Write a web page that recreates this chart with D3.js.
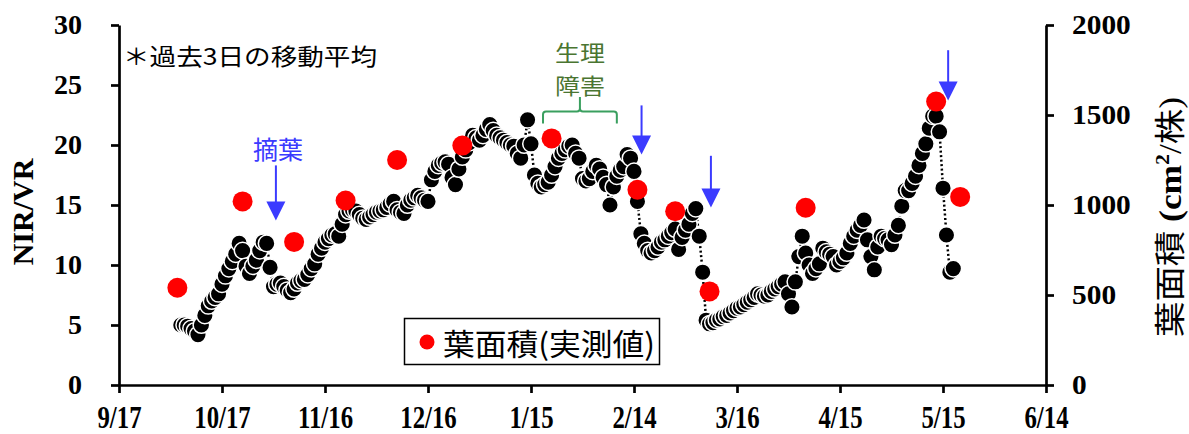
<!DOCTYPE html>
<html>
<head>
<meta charset="utf-8">
<script src="https://cdn.jsdelivr.net/npm/d3@7"></script>
<style>
  body { margin: 0; background: #fff; }
</style>
</head>
<body>
<div id="chart"></div>
<script>
// x axis: days counted from 9/17, one tick every 30 days
const tickDays = [0, 30, 60, 90, 120, 150, 180, 210, 240, 270];
const tickLabels = ["9/17", "10/17", "11/16", "12/16", "1/15", "2/14", "3/16", "4/15", "5/15", "6/14"];
const leftTicks = [0, 5, 10, 15, 20, 25, 30];
const rightTicks = [0, 500, 1000, 1500, 2000];

// NIR/VR, 3-day moving average, one value per day from day 18
const nirStartDay = 18;
const nirvr = [
  5.0, 5.0, 4.9, 4.7, 4.5, 4.2, 5.0, 5.8, 6.6, 7.0,
  7.3, 7.6, 8.4, 9.1, 9.7, 10.3, 10.9, 11.8, 11.2, 9.9,
  9.3, 9.9, 10.4, 11.2, 11.9, 11.8, 9.8, 8.2, 8.4, 8.5,
  8.2, 7.9, 7.7, 8.0, 8.5, 8.7, 8.8, 9.2, 9.7, 10.1,
  10.9, 11.4, 11.9, 12.2, 12.5, 12.6, 12.4, 13.4, 14.2, 14.5,
  14.6, 14.5, 14.2, 13.9, 13.8, 14.0, 14.2, 14.4, 14.5, 14.6,
  14.8, 15.1, 15.3, 14.6, 14.4, 14.3, 15.0, 15.4, 15.6, 15.8,
  15.6, 15.4, 15.3, 17.1, 17.8, 18.3, 18.5, 18.6, 18.4, 17.3,
  16.7, 18.0, 19.0, 19.6, 20.2, 20.8, 20.6, 20.4, 20.8, 21.3,
  21.7, 21.2, 20.8, 20.6, 20.4, 20.2, 20.0, 19.9, 19.3, 18.9,
  20.0, 22.1, 20.1, 17.5, 16.8, 16.5, 16.7, 16.9, 17.5, 18.2,
  18.9, 19.3, 19.6, 19.9, 20.0, 19.3, 18.9, 17.2, 17.0, 17.2,
  17.8, 18.3, 18.0, 17.3, 16.7, 15.0, 16.5, 17.4, 17.9, 18.2,
  19.2, 18.9, 17.8, 15.3, 12.6, 11.8, 11.2, 11.0, 11.2, 11.5,
  11.9, 12.1, 12.4, 12.7, 13.0, 11.3, 12.3, 12.9, 13.4, 14.3,
  14.7, 12.4, 9.4, 5.4, 5.1, 5.2, 5.4, 5.5, 5.7, 5.8,
  6.0, 6.2, 6.4, 6.5, 6.7, 6.9, 7.1, 7.3, 7.6, 7.5,
  7.4, 7.5, 7.8, 8.0, 8.2, 8.4, 8.6, 7.6, 6.5, 8.6,
  10.7, 12.4, 11.0, 10.0, 9.3, 9.7, 10.1, 11.4, 11.1, 10.9,
  10.7, 10.0, 10.3, 10.6, 11.0, 11.8, 12.4, 12.9, 13.3, 13.75,
  12.1, 10.7, 9.6, 11.5, 12.4, 12.2, 12.1, 11.7, 12.5, 13.3,
  14.9, 16.2, 16.2, 16.8, 17.4, 18.3, 19.3, 20.1, 21.4, 22.4,
  22.4, 21.1, 16.4, 12.5, 9.4, 9.7
];

// leaf area, measured (cm2 per plant)
const areaDays = [17, 36, 51, 66, 81, 100, 126, 151, 162, 172, 200, 238, 245];
const areaValues = [540, 1020, 795, 1025, 1250, 1330, 1370, 1085, 965, 520, 985, 1575, 1045];

// leaf removal arrows (day, NIR/VR at shaft top, NIR/VR at tip)
const arrowDays = [45.7, 152.2, 172.4, 241.5];
const arrowTop = [18.3, 23.3, 19.1, 27.9];
const arrowTip = [13.7, 19.2, 14.8, 23.7];

const width = 1189, height = 434;
const margin = { top: 25, right: 143, bottom: 49, left: 119 };

const svg = d3.select("#chart").append("svg")
  .attr("width", width)
  .attr("height", height);

const x = d3.scaleLinear().domain([0, 270]).range([margin.left, width - margin.right]);
const y = d3.scaleLinear().domain([0, 30]).range([height - margin.bottom, margin.top]);
const y2 = d3.scaleLinear().domain([0, 2000]).range([height - margin.bottom, margin.top]);

// squeeze / widen text to match the original's glyph widths
function stretch(sel, k) {
  sel.each(function () {
    const w = this.getComputedTextLength();
    d3.select(this).attr("textLength", w * k).attr("lengthAdjust", "spacingAndGlyphs");
  });
}
function fitWidth(sel, w) {
  sel.attr("textLength", w).attr("lengthAdjust", "spacingAndGlyphs");
}

function styleAxis(g, size) {
  g.select(".domain").attr("stroke", "#000").attr("stroke-width", 2.7);
  g.selectAll(".tick line").attr("stroke", "#000").attr("stroke-width", 2.7);
  g.selectAll(".tick text")
    .attr("fill", "#000")
    .style("font-family", "'Liberation Serif', 'Times New Roman', serif")
    .style("font-weight", "bold")
    .style("font-size", size + "px");
}

const xAxis = svg.append("g")
  .attr("transform", `translate(0,${y(0)})`)
  .call(d3.axisBottom(x).tickValues(tickDays).tickFormat((d, i) => tickLabels[i])
    .tickSize(8).tickSizeOuter(0).tickPadding(13))
  .call(styleAxis, 31);

const yAxis = svg.append("g")
  .attr("transform", `translate(${x(0)},0)`)
  .call(d3.axisLeft(y).tickValues(leftTicks).tickSize(8).tickSizeOuter(0).tickPadding(29))
  .call(styleAxis, 28);

const yAxis2 = svg.append("g")
  .attr("transform", `translate(${x(270)},0)`)
  .call(d3.axisRight(y2).tickValues(rightTicks).tickFormat(d3.format("d"))
    .tickSize(8).tickSizeOuter(0).tickPadding(18))
  .call(styleAxis, 28);

stretch(xAxis.selectAll(".tick text"), 0.8);
stretch(yAxis2.selectAll(".tick text"), 1.05);

// axis titles
svg.append("text")
  .attr("transform", `translate(33,${(y(0) + y(30)) / 2 + 7}) rotate(-90)`)
  .attr("text-anchor", "middle")
  .style("font-family", "'Liberation Serif', serif")
  .style("font-weight", "bold")
  .style("font-size", "30px")
  .text("NIR/VR");

const rTitle = svg.append("text")
  .attr("transform", `translate(1181,217) rotate(-90)`)
  .attr("text-anchor", "middle")
  .style("font-family", "'Liberation Serif', 'Noto Sans CJK JP', serif")
  .style("font-size", "31px");
rTitle.append("tspan").text("葉面積 ");
rTitle.append("tspan").style("font-weight", "bold").text("(cm");
rTitle.append("tspan").style("font-weight", "bold").style("font-size", "19px").attr("dy", -12).text("2");
rTitle.append("tspan").attr("dy", 12).text("/株)");
fitWidth(rTitle, 240);

// NIR/VR series
const nirData = nirvr.map((v, i) => ({ day: nirStartDay + i, v }));

svg.append("path")
  .datum(nirData)
  .attr("fill", "none")
  .attr("stroke", "#000")
  .attr("stroke-width", 2.5)
  .attr("stroke-dasharray", "2,2.5")
  .attr("d", d3.line().x(d => x(d.day)).y(d => y(d.v)));

svg.append("g").selectAll("circle")
  .data(nirData)
  .join("circle")
  .attr("cx", d => x(d.day))
  .attr("cy", d => y(d.v))
  .attr("r", 8.3)
  .attr("fill", "#000")
  .attr("stroke", "#fff")
  .attr("stroke-width", 1.5);

// measured leaf area
svg.append("g").selectAll("circle")
  .data(areaDays.map((d, i) => ({ day: d, v: areaValues[i] })))
  .join("circle")
  .attr("cx", d => x(d.day))
  .attr("cy", d => y2(d.v))
  .attr("r", 10)
  .attr("fill", "#ff0000");

// blue arrows
const blue = "#3b3bff";
arrowDays.forEach((d, i) => {
  const ax = x(d), top = y(arrowTop[i]), tip = y(arrowTip[i]);
  svg.append("line")
    .attr("x1", ax).attr("x2", ax)
    .attr("y1", top).attr("y2", tip - 15)
    .attr("stroke", blue).attr("stroke-width", 2);
  svg.append("path")
    .attr("d", `M${ax - 9.5},${tip - 19}L${ax + 9.5},${tip - 19}L${ax},${tip}Z`)
    .attr("fill", blue);
});

svg.append("text")
  .attr("x", x(45.7) + 2).attr("y", 159)
  .attr("text-anchor", "middle")
  .attr("fill", blue)
  .style("font-family", "'Noto Sans CJK JP', sans-serif")
  .style("font-size", "25px")
  .text("摘葉");

// physiological disorder bracket
const green = "#3a9f5f";
const bx0 = x(123.5), bx1 = x(145), bxm = (bx0 + bx1) / 2;
const by = y(22.8), byEnd = y(21.8), byStem = y(24.0);
svg.append("path")
  .attr("d", `M${bx0},${byEnd}V${by + 3}Q${bx0},${by} ${bx0 + 3},${by}H${bxm - 3}Q${bxm},${by} ${bxm},${by - 3}V${byStem}` +
    `M${bxm},${by - 3}Q${bxm},${by} ${bxm + 3},${by}H${bx1 - 3}Q${bx1},${by} ${bx1},${by + 3}V${byEnd}`)
  .attr("fill", "none")
  .attr("stroke", green)
  .attr("stroke-width", 2);

["生理", "障害"].forEach((t, i) => {
  svg.append("text")
    .attr("x", bxm).attr("y", 61 + i * 33)
    .attr("text-anchor", "middle")
    .attr("fill", "#4a7531")
    .style("font-family", "'Noto Sans CJK JP', sans-serif")
    .style("font-size", "22px")
    .attr("textLength", 50)
    .attr("lengthAdjust", "spacingAndGlyphs")
    .text(t);
});

// note
const note = svg.append("text")
  .attr("x", 123).attr("y", 65)
  .style("font-family", "'Noto Sans CJK JP', sans-serif")
  .style("font-size", "23px")
  .text("＊過去3日の移動平均");
fitWidth(note, 254);

// legend
const legend = svg.append("g");
legend.append("rect")
  .attr("x", 404.5).attr("y", 318.5)
  .attr("width", 255).attr("height", 46)
  .attr("fill", "#fff")
  .attr("stroke", "#000")
  .attr("stroke-width", 1.5);
legend.append("circle")
  .attr("cx", 427).attr("cy", 342)
  .attr("r", 7.5)
  .attr("fill", "#ff0000");
const legText = legend.append("text")
  .attr("x", 443).attr("y", 355)
  .style("font-family", "'Noto Sans CJK JP', sans-serif")
  .style("font-size", "30px")
  .text("葉面積(実測値)");
fitWidth(legText, 212);
</script>
</body>
</html>
